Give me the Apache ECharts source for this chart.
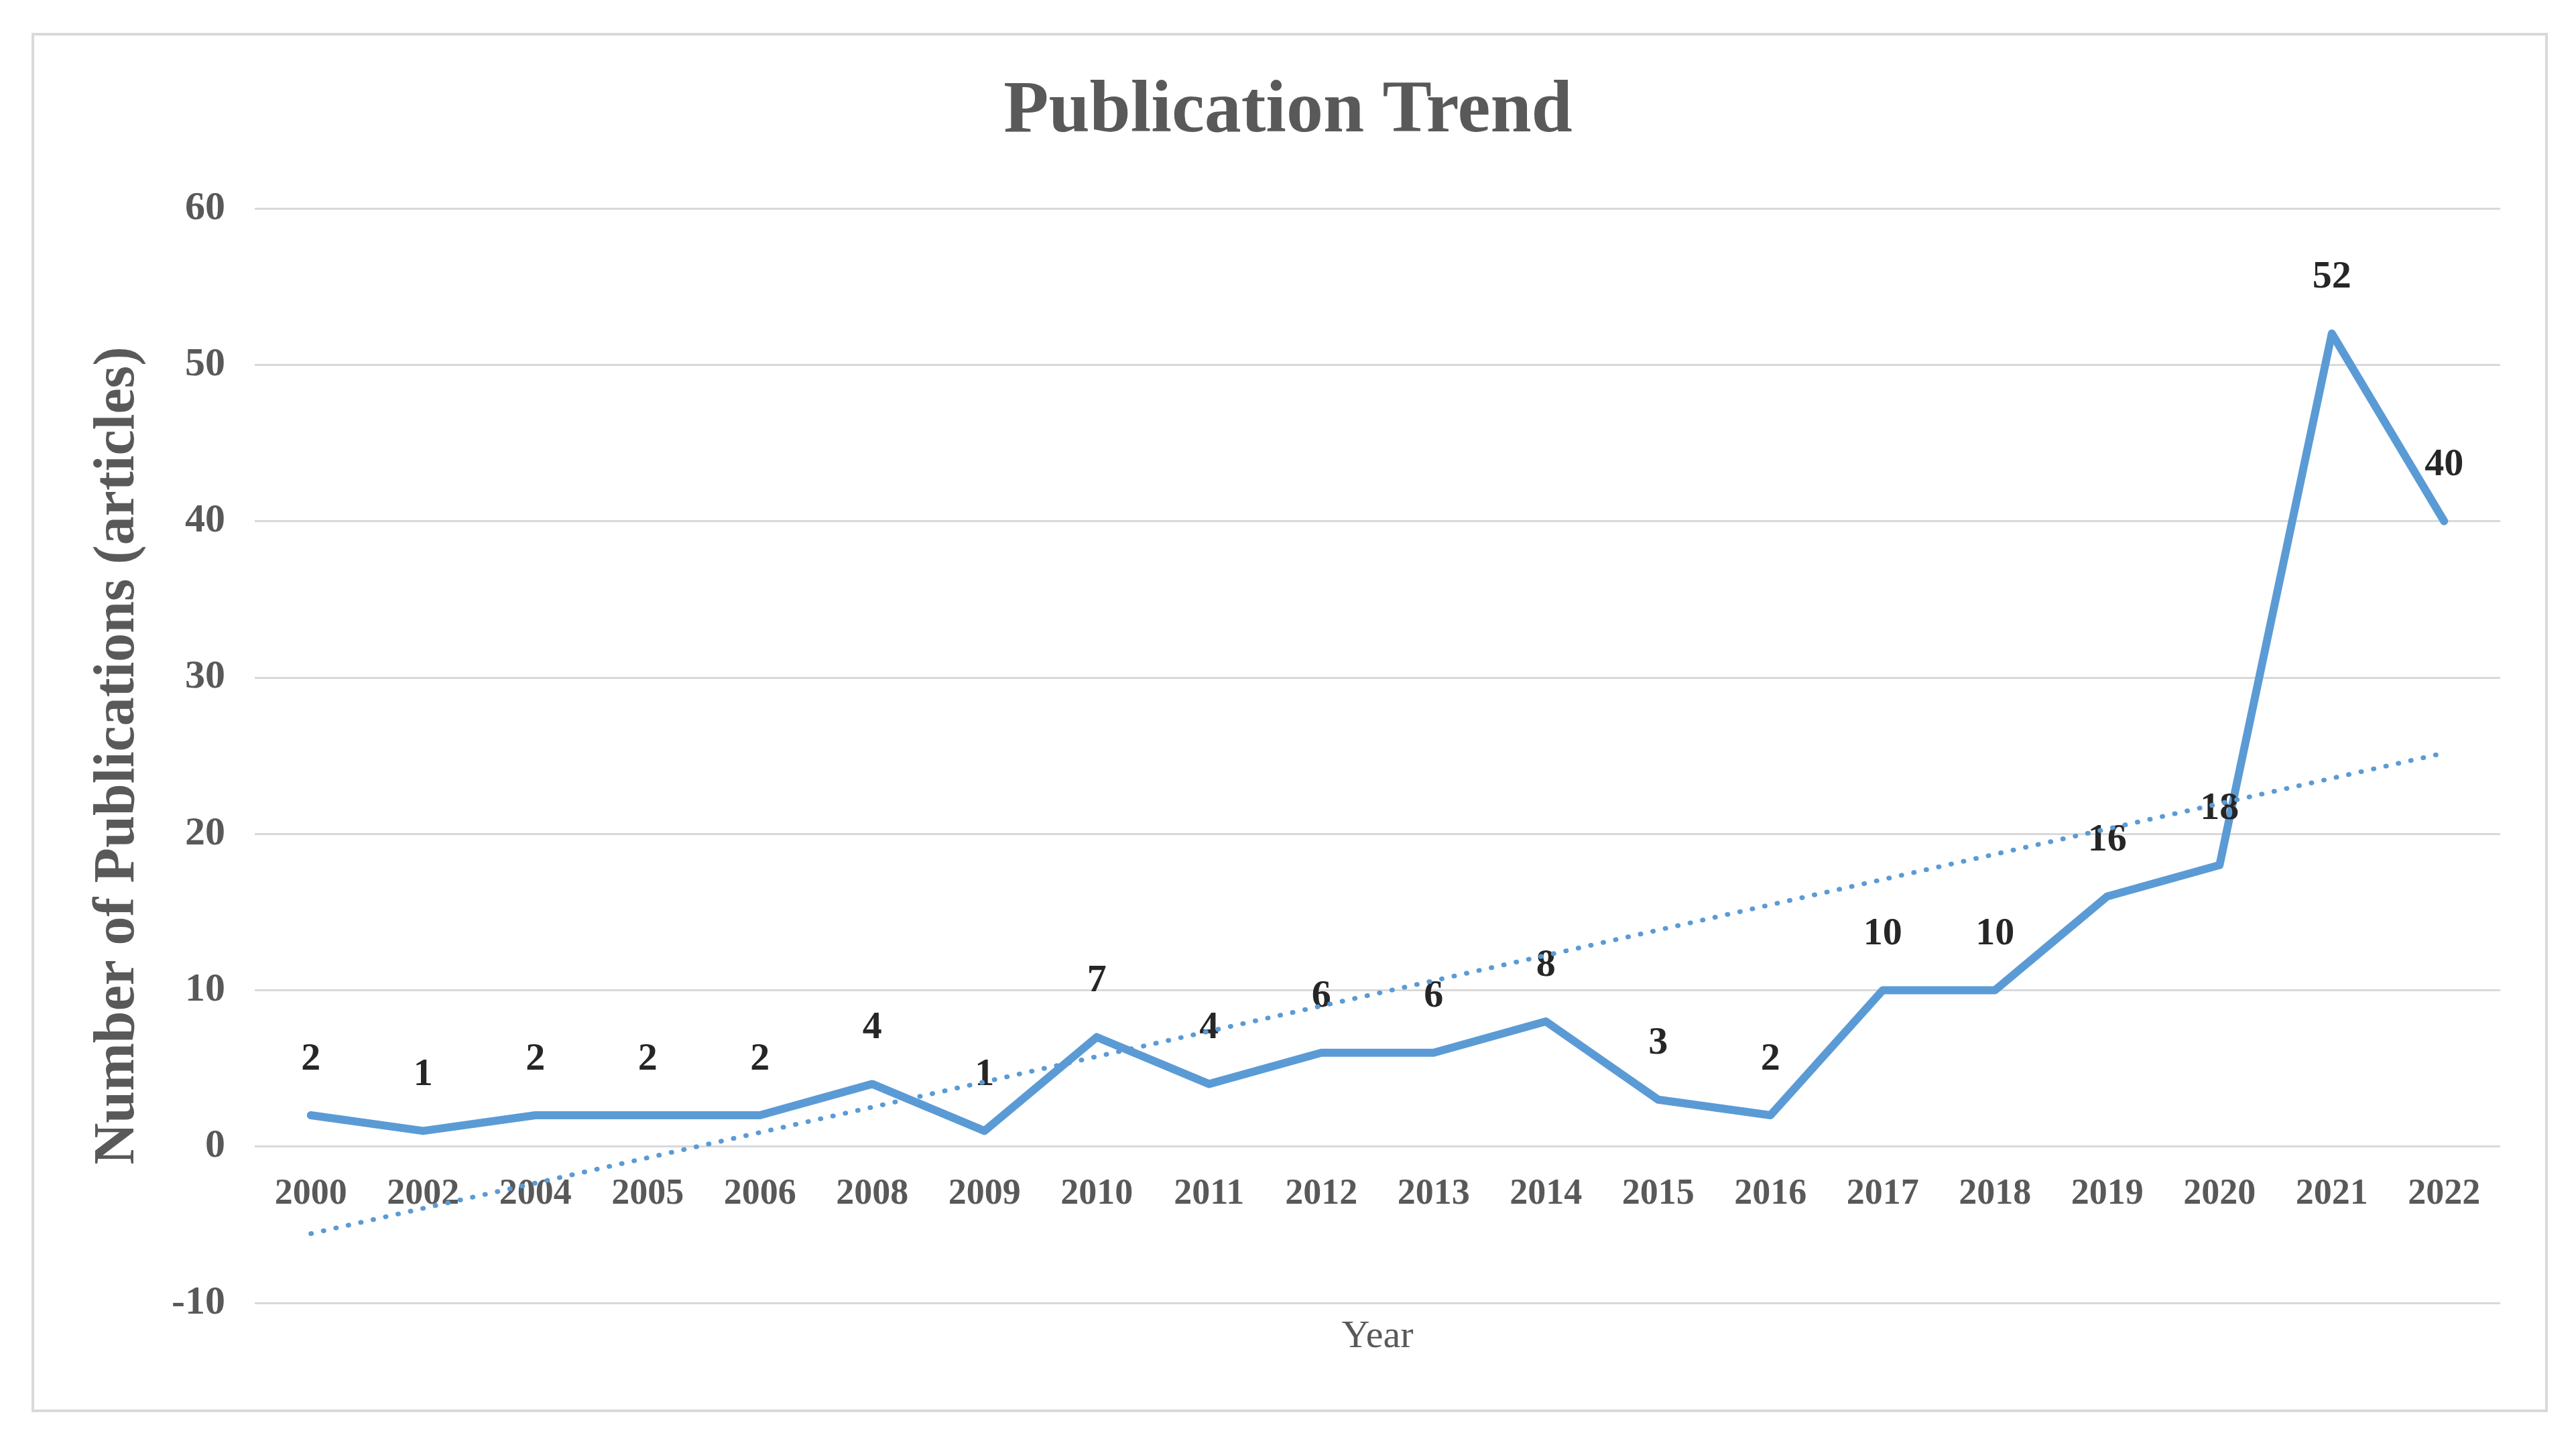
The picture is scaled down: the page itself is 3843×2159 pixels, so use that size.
<!DOCTYPE html>
<html>
<head>
<meta charset="utf-8">
<script src="https://cdn.jsdelivr.net/npm/echarts@6/dist/echarts.min.js"></script>
<style>
html,body{margin:0;padding:0;background:#fff;}
#chart{width:3843px;height:2159px;}
</style>
</head>
<body>
<div id="chart"></div>
<script>
const years = ['2000','2002','2004','2005','2006','2008','2009','2010','2011','2012','2013','2014','2015','2016','2017','2018','2019','2020','2021','2022'];
const publications = [2,1,2,2,2,4,1,7,4,6,6,8,3,2,10,10,16,18,52,40];
// linear trend line end points
const trendYears = ['2000','2022'];
const trendValues = [-5.57, 25.17];
const yTicks = {min:-10, max:60, interval:10};

const serif = 'Liberation Serif, Times New Roman, serif';
const chart = echarts.init(document.getElementById('chart'));
chart.setOption({
  backgroundColor:'#ffffff',
  animation:false,
  graphic:[{
    type:'rect', left:47, top:49, z:-1,
    shape:{width:3750, height:2054},
    style:{fill:'#ffffff', stroke:'#d9d9d9', lineWidth:4}
  }],
  title:{
    text:'Publication Trend',
    left:'center', top:108,
    textStyle:{fontFamily:serif, fontSize:110, fontWeight:'bold', color:'#595959'}
  },
  grid:{left:380, right:113, top:311, bottom:215, containLabel:false, outerBoundsMode:'none'},
  xAxis:{
    type:'category',
    data:years,
    boundaryGap:true,
    position:'bottom',
    offset:-233,
    name:'Year',
    nameLocation:'middle',
    nameGap:255,
    nameTextStyle:{fontFamily:serif, fontSize:58, color:'#595959'},
    axisLine:{show:false, onZero:false},
    axisTick:{show:false},
    axisLabel:{fontFamily:serif, fontSize:54, fontWeight:'bold', color:'#595959', margin:44, interval:0}
  },
  yAxis:{
    type:'value',
    min:yTicks.min, max:yTicks.max, interval:yTicks.interval,
    name:'Number of Publications (articles)',
    nameLocation:'middle',
    nameGap:160,
    nameTextStyle:{fontFamily:serif, fontSize:86, fontWeight:'bold', color:'#595959'},
    axisLine:{show:false},
    axisTick:{show:false},
    splitLine:{lineStyle:{color:'#d9d9d9', width:3}},
    axisLabel:{fontFamily:serif, fontSize:60, fontWeight:'bold', color:'#595959', margin:44}
  },
  series:[
    {
      type:'line',
      data:publications,
      symbol:'circle',
      symbolSize:1,
      showSymbol:true,
      itemStyle:{color:'rgba(0,0,0,0)'},
      lineStyle:{color:'#5b9bd5', width:12, join:'round', cap:'round'},
      label:{show:true, position:'top', distance:54, fontFamily:serif, fontSize:58, fontWeight:'bold', color:'#262626'},
      labelLayout:{hideOverlap:false},
      z:3
    },
    {
      type:'line',
      data:trendYears.map((y,i)=>[y, trendValues[i]]),
      symbol:'none',
      lineStyle:{color:'#5b9bd5', width:7, type:[1,18], cap:'round'},
      z:4
    }
  ]
});
</script>
</body>
</html>
